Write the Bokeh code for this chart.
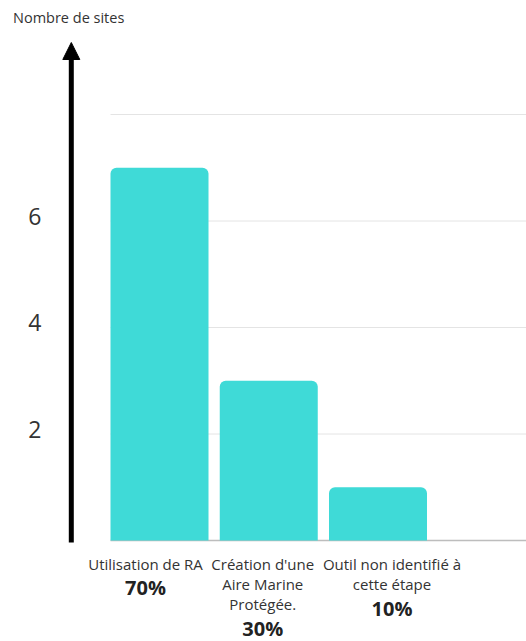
from bokeh.plotting import figure
from bokeh.models import ColumnDataSource, Arrow, NormalHead
from bokeh.core.properties import value
from bokeh.embed import file_html
from bokeh.resources import INLINE

# ---- data ----
categories = ["Utilisation de RA",
              "Création d'une\nAire Marine\nProtégée.",
              "Outil non identifié à\ncette étape"]
sites = [7, 3, 1]
percents = ["70%", "30%", "10%"]
y_ticks = [2, 4, 6]
y_tick_labels = ["2", "4", "6"]
grid_values = [2, 4, 6, 8]
y_title = "Nombre de sites"

# ---- layout / style constants ----
W, H = 526, 641
PX_X = 109.25          # px per category step
PX_Y = 53.25           # px per unit of y
BAR_W = 98 / PX_X
X_CENTER_1 = 159       # px position of first category
Y_ZERO = 540           # px position of y = 0
x0 = 1 - X_CENTER_1 / PX_X
x1 = x0 + W / PX_X
y1 = Y_ZERO / PX_Y
y0 = y1 - H / PX_Y

FONT = "Open Sans"
BAR_COLOR = "#3FDAD7"
TEXT_COLOR = "#333333"
label_shift_px = [-14, -6, 14]   # horizontal nudges of the category captions

xs = list(range(1, len(sites) + 1))

p = figure(width=W, height=H, output_backend="svg", toolbar_location=None,
           title=None, x_axis_location=None, y_axis_location=None,
           x_range=(x0, x1), y_range=(y0, y1),
           min_border=0)
p.outline_line_color = None
p.xgrid.visible = False
p.ygrid.visible = False
p.background_fill_color = "white"
p.border_fill_color = "white"

# gridlines starting at the first bar's left edge
gx0 = xs[0] - BAR_W / 2
p.segment(x0=[gx0] * len(grid_values), x1=[x1] * len(grid_values),
          y0=grid_values, y1=grid_values, line_color="#e4e4e4", line_width=1)
p.segment(x0=[gx0], x1=[x1], y0=[0], y1=[0], line_color="#bdbdbd", line_width=1.5)

# bars
src = ColumnDataSource(dict(x=xs, top=sites, cat=categories, pct=percents,
                            dx=label_shift_px))
p.vbar(x="x", top="top", bottom=0, width=BAR_W, source=src,
       fill_color=BAR_COLOR, line_color=None, border_radius=(6, 6, 0, 0))

# y tick labels
tick_x = 1 - (X_CENTER_1 - 41) / PX_X
p.text(x=[tick_x] * len(y_ticks), y=y_ticks, text=y_tick_labels,
       text_align="right", text_baseline="middle", y_offset=-5,
       text_font=value(FONT), text_font_size="23px", text_color=TEXT_COLOR)

# category labels
LINE_PX = 20.5
FS = 15
label_y = -23 / PX_Y
n_lines = [c.count("\n") + 1 for c in categories]
src.data["pct_off"] = [(n - 1) * LINE_PX + 24 for n in n_lines]
p.text(x="x", y=label_y, text="cat", source=src, text_align="center",
       text_baseline="top", x_offset="dx", y_offset=-10, text_font=value(FONT),
       text_font_size=f"{FS}px", text_color=TEXT_COLOR,
       text_line_height=LINE_PX / 19.45 * 14.5 / FS)
p.text(x="x", y=label_y, text="pct", source=src, text_align="center",
       text_baseline="middle", x_offset="dx", y_offset="pct_off",
       text_font=value(FONT), text_font_size="20px", text_font_style="bold",
       text_color="#222222")

# y axis arrow
ax = 1 - (X_CENTER_1 - 70.8) / PX_X
p.add_layout(Arrow(end=NormalHead(size=17, fill_color="black", line_color="black"),
                   x_start=ax, y_start=-2 / PX_Y, x_end=ax, y_end=(Y_ZERO - 42) / PX_Y,
                   line_width=5, line_color="black"))

# axis title
p.text(x=[1 - (X_CENTER_1 - 12.5) / PX_X], y=[(Y_ZERO - 17) / PX_Y], text=[y_title],
       text_align="left", text_baseline="middle", text_font=value(FONT),
       text_font_size="14.5px", text_color=TEXT_COLOR)

open("out.html", "w").write(file_html(p, INLINE))
